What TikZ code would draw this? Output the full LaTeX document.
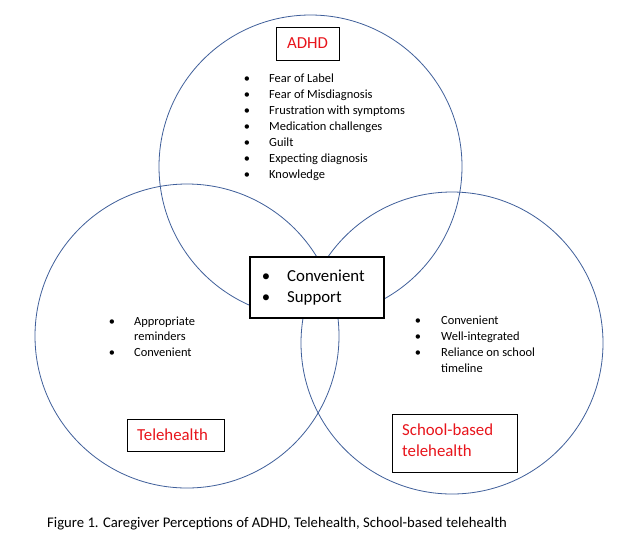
\documentclass[tikz,border=0pt]{standalone}
\usepackage{fontspec}
\setmainfont{Carlito}
\definecolor{ringblue}{HTML}{3F5F9A}
\definecolor{labelred}{HTML}{E8141B}
\begin{document}
\begin{tikzpicture}[x=1pt,y=-1pt,
  ring/.style={circle,draw=ringblue,line width=0.8pt,minimum size=#1,inner sep=0pt,outer sep=0pt},
  framebox/.style={draw=black,line width=0.8pt,inner sep=0pt,outer sep=0pt},
  smalltext/.style={font=\fontsize{12.45}{15}\selectfont,anchor=base west,inner sep=0pt},
  bigtext/.style={font=\fontsize{16.8}{21}\selectfont,anchor=base west,inner sep=0pt},
  smallbul/.style={font=\fontsize{12.45}{15}\selectfont,anchor=base,inner sep=0pt},
  bigbul/.style={font=\fontsize{16.8}{21}\selectfont,anchor=base,inner sep=0pt},
  redtext/.style={bigtext,text=labelred},
  captext/.style={font=\fontsize{14.7}{17}\selectfont,anchor=base west,inner sep=0pt}
]
\useasboundingbox (0,0) rectangle (634,558);
\fill[white] (0,0) rectangle (634,558);

% circles
\node[ring=303pt] (cadhd) at (310.5,166.5) {};
\node[ring=304pt] (ctele) at (187,336) {};
\node[ring=302pt] (cschool) at (452,343) {};

% ADHD label
\node[framebox,minimum width=63pt,minimum height=33pt] (badhd) at (307.5,43.5) {};
\node[redtext,anchor=base] (tadhd) at (307.5,48.5) {ADHD};

% ADHD list
\foreach \y/\t [count=\i] in {82/Fear of Label,98/Fear of Misdiagnosis,114/Frustration with symptoms,130/Medication challenges,146/Guilt,162/Expecting diagnosis,178/Knowledge}{
  \node[smallbul] (ab\i) at (247,\y) {•};
  \node[smalltext] (at\i) at (269,\y) {\t};
}

% Telehealth list
\node[smallbul] (lb1) at (112,325) {•};
\node[smalltext] (lt1) at (134,325) {Appropriate};
\node[smalltext] (lt2) at (134,340) {reminders};
\node[smallbul] (lb3) at (112,356) {•};
\node[smalltext] (lt3) at (134,356) {Convenient};

% School-based list
\node[smallbul] (rb1) at (418,324) {•};
\node[smalltext] (rt1) at (441,324) {Convenient};
\node[smallbul] (rb2) at (418,340) {•};
\node[smalltext] (rt2) at (441,340) {Well-integrated};
\node[smallbul] (rb3) at (418,356) {•};
\node[smalltext] (rt3) at (441,356) {Reliance on school};
\node[smalltext] (rt4) at (441,372) {timeline};

% center box
\node[framebox,line width=2.6pt,fill=white,minimum width=134pt,minimum height=61pt] (bcenter) at (317,287.5) {};
\node[bigbul] (cb1) at (266,281.5) {•};
\node[bigtext] (ct1) at (287,281.5) {Convenient};
\node[bigbul] (cb2) at (266,302.5) {•};
\node[bigtext] (ct2) at (287,302.5) {Support};

% Telehealth label
\node[framebox,fill=white,minimum width=97pt,minimum height=32pt] (btele) at (175.5,435) {};
\node[redtext] (ttele) at (137,440.5) {Telehealth};

% School-based label
\node[framebox,fill=white,minimum width=125pt,minimum height=58pt] (bschool) at (454.5,443) {};
\node[redtext] (tschool1) at (402,435.5) {School-based};
\node[redtext] (tschool2) at (402,456.5) {telehealth};

% caption
\node[captext] (caption) at (47,527.5) {Figure 1. Caregiver Perceptions of ADHD, Telehealth, School-based telehealth};
\end{tikzpicture}
\end{document}
